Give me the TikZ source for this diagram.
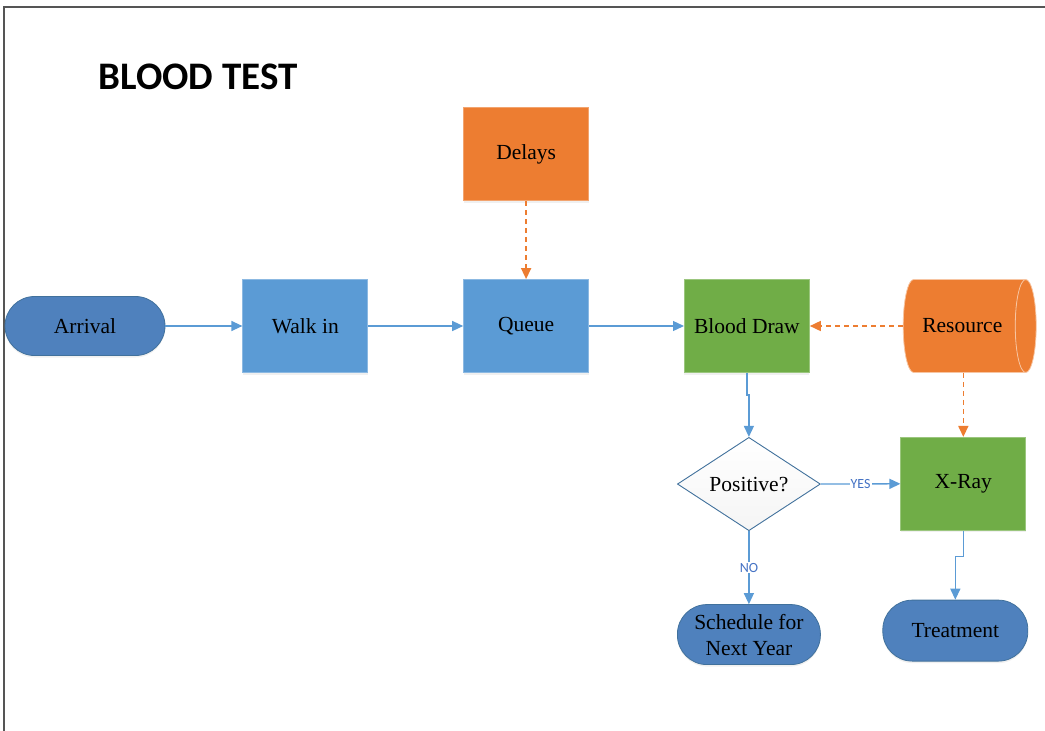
\documentclass[tikz,border=0pt]{standalone}
\usepackage{fontspec}
\setmainfont{Liberation Serif}
\newfontfamily\titlefont{Carlito}
\usepackage{tikz}
\usetikzlibrary{arrows.meta,shapes,positioning,shadows}
\usepackage{xcolor}
\definecolor{bgblue}{RGB}{79,129,189}
\definecolor{bgblueline}{RGB}{65,113,156}
\definecolor{bxblue}{RGB}{91,155,213}
\definecolor{bxorange}{RGB}{237,125,49}
\definecolor{bxgreen}{RGB}{112,173,71}
\definecolor{lnblue}{RGB}{91,155,213}
\definecolor{lbblue}{RGB}{68,114,196}
\definecolor{framegray}{RGB}{85,85,85}
\tikzstyle{txt} = [font=\fontsize{21.5}{26}\selectfont, text=black, align=center]
\tikzstyle{terminal} = [txt, rectangle, rounded corners=29.5pt, minimum width=160pt, minimum height=59pt, fill=bgblue, draw=bgblueline, line width=0.8pt, drop shadow={opacity=0.12, shadow xshift=0pt, shadow yshift=-2pt}]
\tikzstyle{process} = [txt, rectangle, minimum width=125pt, minimum height=93pt, fill=bxblue, draw=bxblue!70!white, line width=0.8pt, drop shadow={opacity=0.12, shadow xshift=0pt, shadow yshift=-2pt}]
\tikzstyle{decision} = [txt, diamond, inner sep=0pt, minimum width=143pt, minimum height=90pt, top color=white, bottom color=gray!8, draw=bgblueline, line width=0.9pt]
\tikzstyle{flow} = [line width=1.3pt, color=lnblue, -{Triangle[length=11pt,width=10pt]}]
\tikzstyle{supply} = [line width=1.6pt, color=bxorange, dash pattern=on 5pt off 4pt, -{Triangle[length=11pt,width=10pt]}]
\tikzstyle{lbl} = [font=\titlefont\fontsize{14}{14}\selectfont, text=lbblue, fill=white, inner sep=1pt]

\begin{document}
\begin{tikzpicture}[node distance=95pt]
\useasboundingbox (0,0) rectangle (1045pt,-731pt);
\draw[framegray, line width=2pt] (4pt,-731pt) -- (4pt,-7pt) -- (1045pt,-7pt);

% title
\node[anchor=west, font=\titlefont\bfseries\fontsize{39}{39}\selectfont] (title) at (95pt,-77pt) {BLOOD TEST};

% main line
\node[terminal] (arrival) at (85pt,-326pt) {Arrival};
\node[process, right=77pt of arrival] (walk) {Walk in};
\node[process, right=of walk] (queue) {Queue};
\node[process, right=of queue, fill=bxgreen, draw=bxgreen!70!white] (draw) {Blood Draw};
\node[txt, cylinder, right=93pt of draw, minimum width=93pt, minimum height=133pt, aspect=1.0,
      cylinder uses custom fill, cylinder body fill=bxorange, cylinder end fill=bxorange,
      draw=bxorange!45!white, line width=0.8pt] (res) {Resource};

% inputs
\node[process, above=78pt of queue, fill=bxorange, draw=bxorange!70!white] (delays) {Delays};

% decision
\node[decision, below=64pt of draw, xshift=2pt] (pos) {Positive?};
\node[process, below=64pt of res, xshift=1pt, fill=bxgreen, draw=bxgreen!70!white] (xray) {X-Ray};
\coordinate (rtap) at ([yshift=64pt]xray.north);

% ends
\node[terminal, below=73pt of pos, minimum width=143pt, minimum height=60pt] (sched) {Schedule for\\Next Year};
\node[terminal, below=69pt of xray, xshift=-8pt, minimum width=145pt, minimum height=61pt] (treat) {Treatment};

\draw[flow] (arrival) -- (walk);
\draw[flow] (walk) -- (queue);
\draw[flow] (queue) -- (draw);
\draw[supply] (delays) -- (queue);
\draw[supply] (res) -- (draw);
\draw[supply] (rtap) -- (xray.north);
\draw[flow] (draw.south) -- ++(0,-22pt) -| (pos.north);
\draw[flow] (pos.east) -- node[lbl] {YES} (xray.west);
\draw[flow] (pos.south) -- node[lbl] {NO} (sched.north);
\draw[flow] (xray.south) -- ++(0,-26pt) -| (treat.north);
\end{tikzpicture}
\end{document}
